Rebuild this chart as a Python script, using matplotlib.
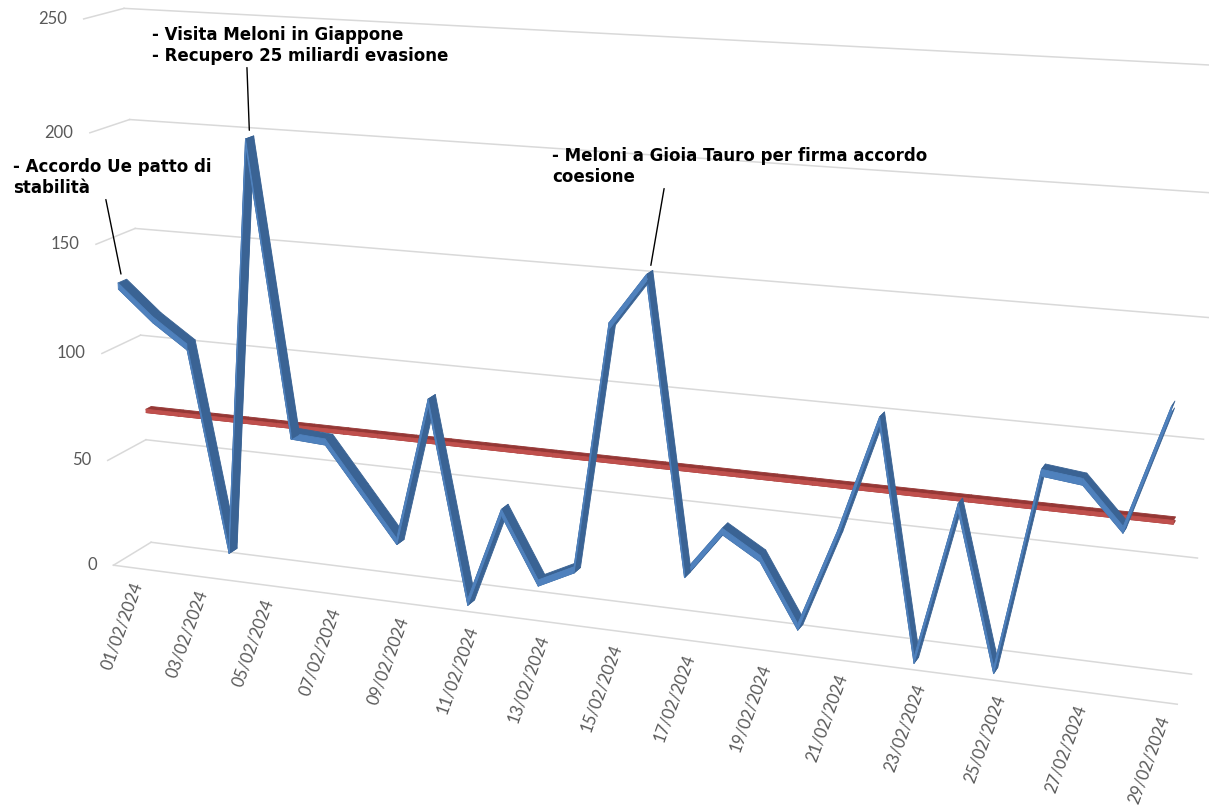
import numpy as np
import matplotlib.pyplot as plt
from mpl_toolkits.mplot3d import proj3d
from mpl_toolkits.mplot3d.art3d import Poly3DCollection

# daily counts, February 2024
dates = [f'{d:02d}/02/2024' for d in range(1, 30)]
values = [131, 117, 106, 13, 200, 70, 69, 48, 27, 92, 3, 46, 16, 24, 133,
          155, 28, 49, 39, 11, 54, 104, 3, 71, 3, 89, 87, 69, 120]
z_ticks = [0, 50, 100, 150, 200, 250]

notes = [
    (0, '- Accordo Ue patto di\nstabilità'),
    (4, '- Visita Meloni in Giappone\n- Recupero 25 miliardi evasione'),
    (15, '- Meloni a Gioia Tauro per firma accordo\ncoesione'),
]

# average line (second series, drawn behind)
avg_line = np.full(len(values), np.mean(values))
xs = np.arange(len(values))

BLUE_SIDE, BLUE_FRONT = '#3a6394', '#4f81bd'
RED_SIDE, RED_FRONT = '#953735', '#c0504d'
GRID = '#d9d9d9'

fig = plt.figure(figsize=(12.09, 8.05), dpi=100)
# view fitted to the excel 3d line layout
ax = fig.add_axes([-0.02111, -0.22128, 1.04125, 1.56382], projection='3d',
                  computed_zorder=False)
ax.set_proj_type('persp', focal_length=0.4084)
ax.view_init(elev=14.848, azim=-69.2922, roll=0.2811)
ax.set_box_aspect((10.5, 0.7382, 5.4374), zoom=1)
x0, x1 = -0.5, 28.5
y_front, y_back = 0, 1
ax.set_xlim(x0, x1)
ax.set_ylim(y_front, y_back)
ax.set_zlim(0, 250)
ax.set_axis_off()

# gridlines on back and side wall, front edge of the floor
for zt in z_ticks:
    ax.plot([x0, x1], [y_back, y_back], [zt, zt], color=GRID, lw=1.1, zorder=1, clip_on=False)
    ax.plot([x0, x0], [y_front, y_back], [zt, zt], color=GRID, lw=1.1, zorder=1, clip_on=False)
ax.plot([x0, x1], [y_front, y_front], [0, 0], color=GRID, lw=1.1, zorder=1, clip_on=False)


def ribbon(vals, yc, w, h, side, front, z):
    sides, fronts = [], []
    for i in range(len(vals) - 1):
        a, b = xs[i], xs[i + 1]
        va, vb = vals[i], vals[i + 1]
        for dz in (h / 2, -h / 2):
            sides.append([(a, yc - w, va + dz), (b, yc - w, vb + dz),
                          (b, yc + w, vb + dz), (a, yc + w, va + dz)])
        fronts.append([(a, yc - w, va - h / 2), (b, yc - w, vb - h / 2),
                       (b, yc - w, vb + h / 2), (a, yc - w, va + h / 2)])
    cols = [side] * len(sides) + [front] * len(fronts)
    pc = Poly3DCollection(sides + fronts, facecolors=cols, edgecolors=cols,
                          linewidths=0.6, zorder=z)
    pc.set_clip_on(False)
    ax.add_collection3d(pc)


ribbon(avg_line, 0.7, 0.07, 1.6, RED_SIDE, RED_FRONT, 2)
ribbon(values, 0.2, 0.11, 2.8, BLUE_SIDE, BLUE_FRONT, 3)

fig.canvas.draw()
M = ax.get_proj()


def to2d(x, y, z):
    px, py, _ = proj3d.proj_transform(x, y, z, M)
    return float(px), float(py)


for zt in z_ticks:
    ax.annotate(str(zt), xy=to2d(x0, y_front, zt), xytext=(-12, 0),
                textcoords='offset points', ha='right', va='center',
                fontsize=12, color='#595959', family='Lato', annotation_clip=False)

for i in range(0, len(dates), 2):
    ax.annotate(dates[i], xy=to2d(i, y_front, 0), xytext=(6, -11),
                textcoords='offset points', rotation=70, rotation_mode='anchor',
                ha='right', va='center', fontsize=12, color='#595959',
                family='Lato', annotation_clip=False)

note_pos = [(13, 158, 0.465), (152, 26, 0.32), (552, 147, 0.30)]
for (idx, txt), (tx, ty, rx) in zip(notes, note_pos):
    ax.annotate(txt, xy=to2d(idx, 0.2, values[idx] + 1.5), xytext=(tx, 805 - ty),
                textcoords='figure pixels', ha='left', va='top', fontsize=12,
                fontweight='bold', family='DejaVu Sans', annotation_clip=False,
                arrowprops=dict(arrowstyle='-', color='black', lw=1,
                                shrinkA=0, shrinkB=5, relpos=(rx, 0)))

fig.savefig('out.png', dpi=100)
